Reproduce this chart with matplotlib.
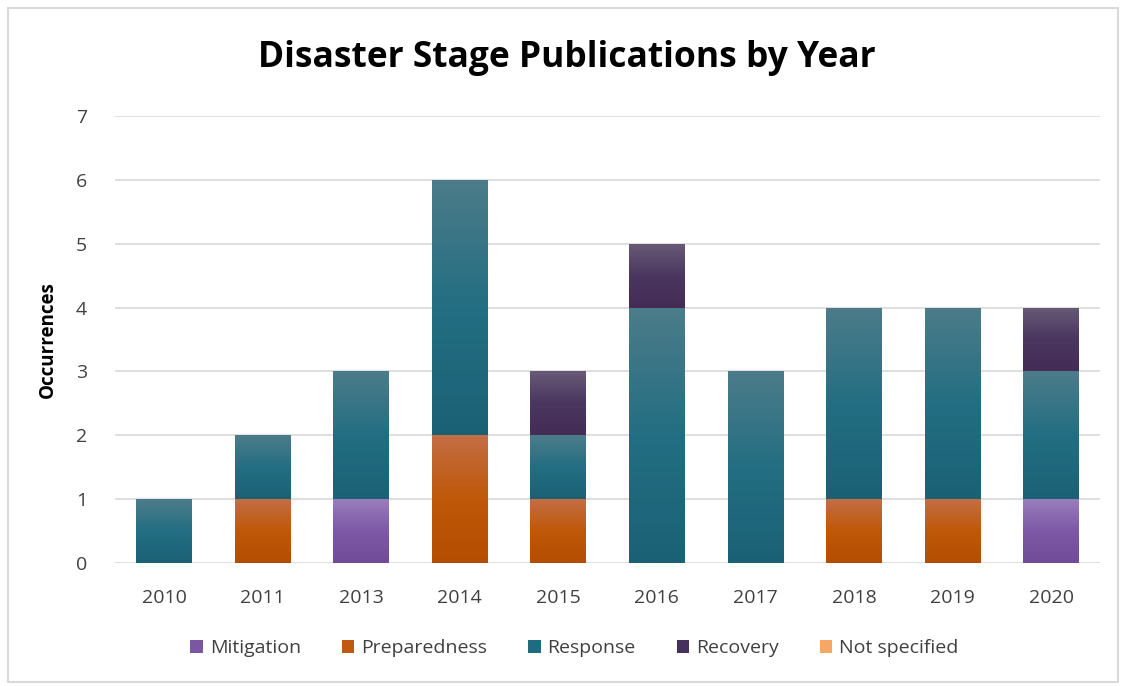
import numpy as np
import matplotlib
matplotlib.use("Agg")
import matplotlib.pyplot as plt
from matplotlib.colors import LinearSegmentedColormap
from matplotlib.patches import Rectangle

plt.rcParams['font.family'] = ['Open Sans', 'DejaVu Sans']

years = ["2010", "2011", "2013", "2014", "2015", "2016", "2017", "2018", "2019", "2020"]
mitigation = [0, 0, 1, 0, 0, 0, 0, 0, 0, 1]
preparedness = [0, 1, 0, 2, 1, 0, 0, 1, 1, 0]
response = [1, 1, 2, 4, 1, 4, 3, 3, 3, 2]
recovery = [0, 0, 0, 0, 1, 1, 0, 0, 0, 1]
not_specified = [0, 0, 0, 0, 0, 0, 0, 0, 0, 0]

series = [
    ("Mitigation", mitigation, "#7B56A3", ("#9A7DBB", "#7D58A6", "#704C98")),
    ("Preparedness", preparedness, "#C05A10", ("#C46E46", "#BF5808", "#B44D00")),
    ("Response", response, "#1F6B7F", ("#4D7C8A", "#236E82", "#1B6176")),
    ("Recovery", recovery, "#45305E", ("#685A77", "#4B365F", "#432D57")),
    ("Not specified", not_specified, "#F7A764", ("#F9BC8A", "#F7A764", "#F29A50")),
]

fig = plt.figure(figsize=(11.22, 6.86), dpi=100)
ax = fig.add_axes([114.7 / 1122, 1 - 563 / 686, (1100.5 - 114.7) / 1122, (563 - 116) / 686])

x = np.arange(len(years))
bottom = np.zeros(len(years))
grad = np.linspace(1, 0, 256).reshape(-1, 1)
handles = []
for name, vals, base, stops in series:
    vals = np.array(vals, dtype=float)
    bars = ax.bar(x, vals, width=0.565, bottom=bottom, color=base,
                  edgecolor="none", zorder=2)
    cmap = LinearSegmentedColormap.from_list(name, [stops[2], stops[1], stops[0]])
    for rect, v in zip(bars, vals):
        if v <= 0:
            continue
        x0, y0 = rect.get_x(), rect.get_y()
        w, h = rect.get_width(), rect.get_height()
        im = ax.imshow(grad, cmap=cmap, aspect="auto",
                       extent=(x0, x0 + w, y0, y0 + h), origin="upper",
                       zorder=3, interpolation="bilinear")
        im.set_clip_path(rect)
    handles.append(Rectangle((0, 0), 1, 1, facecolor=base, edgecolor="none"))
    bottom += vals

ax.set_xlim(-0.5, len(years) - 0.5)
ax.set_ylim(0, 7)
ax.set_yticks(range(0, 8))
ax.set_xticks(x)
ax.set_xticklabels(years)
ax.tick_params(axis="both", length=0, labelsize=14, colors="#404040")
ax.tick_params(axis="x", pad=19)
ax.tick_params(axis="y", pad=20)
ax.yaxis.grid(True, color="#D9D9D9", linewidth=1.2, zorder=0)
ax.set_axisbelow(True)
for s in ax.spines.values():
    s.set_visible(False)

ax.set_ylabel("Occurrences", fontsize=13.5, fontweight="bold", labelpad=13, color="#000000")

fig.text(0.505, 1 - 58 / 686, "Disaster Stage Publications by Year", ha="center", va="center",
         fontsize=25.5, fontweight="bold", color="#000000")

fig.legend(handles, [s[0] for s in series], loc="center", ncol=5,
           bbox_to_anchor=(0.512, 1 - 648 / 686), frameon=False, fontsize=14,
           handlelength=0.65, handleheight=0.65, handletextpad=0.35, columnspacing=2.1,
           labelcolor="#404040")

fig.patches.append(Rectangle((8 / 1122, 1 - 682 / 686), 1110 / 1122, 674 / 686,
                             transform=fig.transFigure, fill=False,
                             edgecolor="#D9D9D9", linewidth=1.5))

fig.savefig("out.png", dpi=100)
